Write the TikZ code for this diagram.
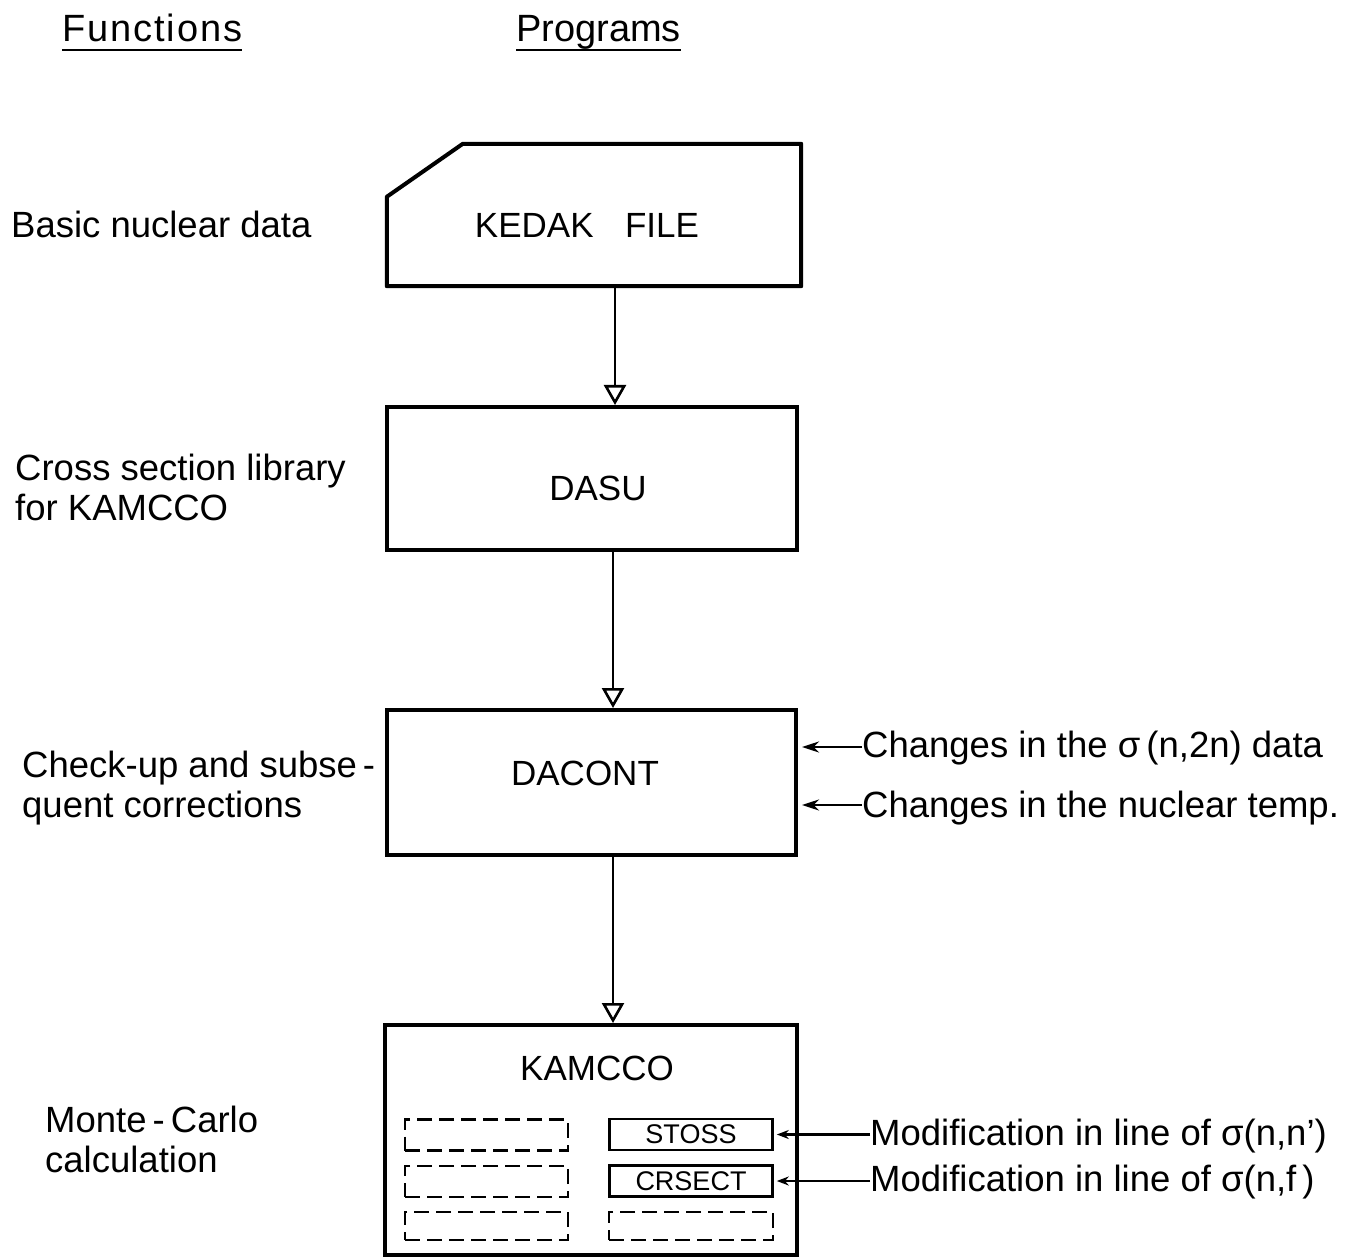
\documentclass[tikz,border=0pt]{standalone}
\usepackage{fontspec}
\setmainfont{Liberation Sans}
\usetikzlibrary{arrows.meta,calc}
\begin{document}
\begin{tikzpicture}[x=1pt,y=-1pt,
  lbl/.style={font=\fontsize{36.5}{40}\selectfont, inner sep=0pt, anchor=base west, align=left},
  hdr/.style={font=\fontsize{38}{40}\selectfont, inner sep=0pt, anchor=base west},
  boxlbl/.style={font=\fontsize{35}{40}\selectfont, inner sep=0pt},
  sublbl/.style={font=\fontsize{27}{30}\selectfont},
  prog/.style={draw, line width=4pt, inner sep=0pt},
  subbox/.style={draw, line width=2.6pt, inner sep=0pt, minimum width=163pt, minimum height=31pt},
  dashbox/.style={subbox, dash pattern=on 15pt off 7pt},
  flow/.style={line width=2.6pt, -{Triangle[open,length=20pt,width=22pt,line width=2.6pt]}},
  sidearrow/.style={line width=2.6pt, -{Stealth[length=17pt,width=11pt]}},
  smallarrow/.style={line width=2.6pt, -{Stealth[length=12pt,width=9pt]}},
  uline/.style={line width=2pt}
]
\fill[white] (0,0) rectangle (1345,1257);
\useasboundingbox (0,0) rectangle (1345,1257);

% headers
\node[hdr] (fn) at (62,42) {\addfontfeature{LetterSpace=5}Functions};
\node[hdr] (pg) at (516,42) {Programs};
\draw[uline] ($(fn.base west)+(0,8)$) -- ($(fn.base east)+(0,8)$);
\draw[uline] ($(pg.base west)+(0,8)$) -- ($(pg.base east)+(0,8)$);

% function labels
\node[lbl] (f1) at (11,238) {Basic nuclear data};
\node[lbl] (f2) at (15,520) {Cross section library\\for KAMCCO};
\node[lbl] (f3) at (22,817) {Check-up and subse\,-\\quent corrections};
\node[lbl] (f4) at (45,1172) {Monte\,-\,Carlo\\calculation};

% program boxes
\node[minimum width=414pt, minimum height=142pt, inner sep=0pt] (kedak) at (594,215) {};
\draw[line width=4pt, line join=round] (kedak.south west) -- ($(kedak.north west)+(0,53)$) -- ($(kedak.north west)+(76,0)$) -- (kedak.north east) -- (kedak.south east) -- cycle;
\node[boxlbl] (kedaklbl) at (587,225) {KEDAK\hspace{0.9em}FILE};

\node[prog, minimum width=410pt, minimum height=143pt] (dasu) at (592,478.5) {};
\node[boxlbl] (dasulbl) at (598,488) {DASU};

\node[prog, minimum width=409pt, minimum height=145pt] (dacont) at (591.5,782.5) {};
\node[boxlbl] (dacontlbl) at (585,773) {DACONT};

\node[prog, minimum width=412pt, minimum height=230pt] (kamcco) at (591,1140) {};
\node[boxlbl] (kamccolbl) at (597,1068) {KAMCCO};

% sub boxes
\node[dashbox] (d1) at (486.5,1135) {};
\node[dashbox] (d2) at (486.5,1181.5) {};
\node[dashbox, minimum height=28pt] (d3) at (486.5,1226) {};
\node[subbox, sublbl] (stoss) at (691,1134.5) {STOSS};
\node[subbox, sublbl] (crsect) at (691,1181) {CRSECT};
\node[dashbox, minimum width=164pt, minimum height=28pt] (d4) at (691,1226) {};

% flow connectors
\coordinate (ax1) at (615,0);
\coordinate (ax2) at (613,0);
\draw[flow] (kedak.south -| ax1) -- (dasu.north -| ax1);
\draw[flow] (dasu.south -| ax2) -- (dacont.north -| ax2);
\draw[flow] (dacont.south -| ax2) -- (kamcco.north -| ax2);

% side inputs to DACONT
\node[lbl] (ch1) at (862,757) {Changes in the σ\,(n,2n) data};
\node[lbl] (ch2) at (862,817) {Changes in the nuclear temp.};
\coordinate (c1) at ($(ch1.base west)+(0,-10)$);
\coordinate (c2) at ($(ch2.base west)+(0,-12)$);
\draw[sidearrow] (c1) -- ($(dacont.east |- c1)+(4,0)$);
\draw[sidearrow] (c2) -- ($(dacont.east |- c2)+(4,0)$);

% side inputs to KAMCCO subroutines
\node[lbl] (m1) at (870,1145) {Modification in line of σ(n,n')};
\node[lbl] (m2) at (870,1191) {Modification in line of σ(n,f\,)};
\draw[smallarrow] (m1.west |- stoss.east) -- ($(stoss.east)+(3,0)$);
\draw[smallarrow] (m2.west |- crsect.east) -- ($(crsect.east)+(3,0)$);
\end{tikzpicture}
\end{document}
